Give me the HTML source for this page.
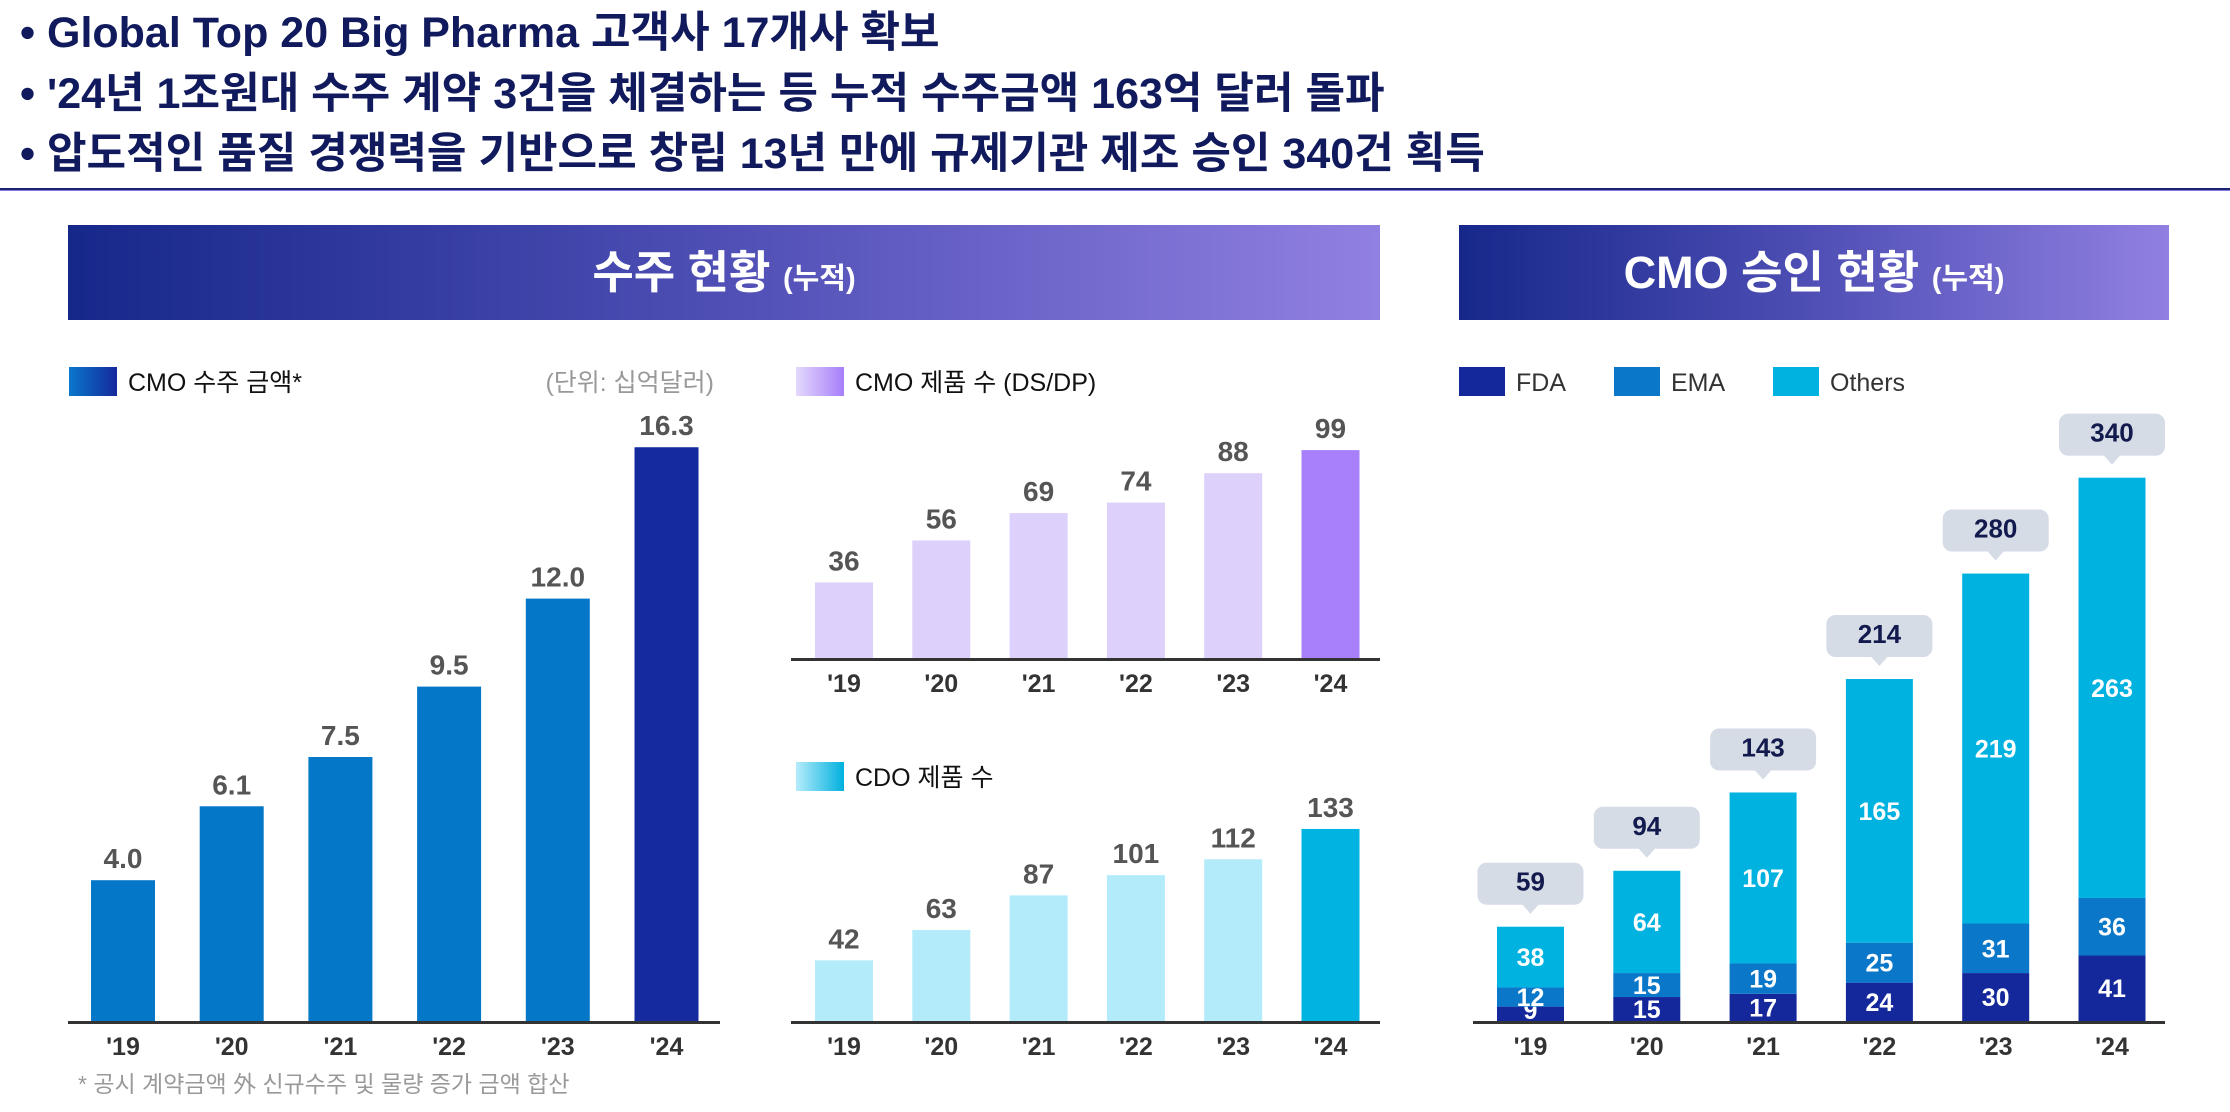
<!DOCTYPE html>
<html><head><meta charset="utf-8">
<style>
html,body{margin:0;padding:0;background:#fff;}
body{width:2230px;height:1107px;overflow:hidden;font-family:"Liberation Sans","Noto Sans CJK KR",sans-serif;}
svg text{font-family:"Liberation Sans","Noto Sans CJK KR",sans-serif;}
</style></head>
<body>
<svg id="s" width="2230" height="1107" viewBox="0 0 2230 1107" xmlns="http://www.w3.org/2000/svg">
<defs>
<linearGradient id="ban" x1="0" x2="1" y1="0" y2="0"><stop offset="0" stop-color="#16278A"/><stop offset="0.5" stop-color="#4F4FB5"/><stop offset="1" stop-color="#9180E2"/></linearGradient>
<linearGradient id="lg1" x1="0" x2="1"><stop offset="0" stop-color="#0A78CC"/><stop offset="1" stop-color="#15299C"/></linearGradient>
<linearGradient id="lg2" x1="0" x2="1"><stop offset="0" stop-color="#E4D9FC"/><stop offset="1" stop-color="#A67EFA"/></linearGradient>
<linearGradient id="lg3" x1="0" x2="1"><stop offset="0" stop-color="#B5ECFB"/><stop offset="1" stop-color="#00B0DE"/></linearGradient>
</defs>
<g font-weight="bold" font-size="43" fill="#101A5C">
<text x="20" y="47">• Global Top 20 Big Pharma 고객사 17개사 확보</text>
<text x="20" y="108">• '24년 1조원대 수주 계약 3건을 체결하는 등 누적 수주금액 163억 달러 돌파</text>
<text x="20" y="168">• 압도적인 품질 경쟁력을 기반으로 창립 13년 만에 규제기관 제조 승인 340건 획득</text>
</g>
<rect x="0" y="188" width="2230" height="2" fill="#1A2470"/>
<rect x="0" y="190" width="2230" height="1" fill="#8A78E0"/>
<rect x="68" y="225" width="1312" height="95" fill="url(#ban)"/>
<text x="724" y="288" text-anchor="middle" fill="#fff" font-weight="bold" font-size="45">수주 현황 <tspan font-size="29">(누적)</tspan></text>
<rect x="1459" y="225" width="710" height="95" fill="url(#ban)"/>
<text x="1814" y="288" text-anchor="middle" fill="#fff" font-weight="bold" font-size="45">CMO 승인 현황 <tspan font-size="29">(누적)</tspan></text>

<rect x="69" y="367" width="48" height="29" fill="url(#lg1)"/>
<text x="128" y="391" font-size="25" fill="#111">CMO 수주 금액*</text>
<text x="714" y="391" font-size="25" fill="#999" text-anchor="end">(단위: 십억달러)</text>
<rect x="796" y="367" width="48" height="29" fill="url(#lg2)"/>
<text x="855" y="391" font-size="25" fill="#111">CMO 제품 수 (DS/DP)</text>
<rect x="796" y="762" width="48" height="29" fill="url(#lg3)"/>
<text x="855" y="786" font-size="25" fill="#111">CDO 제품 수</text>
<text x="78" y="1092" font-size="23" fill="#999">* 공시 계약금액 外 신규수주 및 물량 증가 금액 합산</text>

<rect x="1459" y="367" width="46" height="29" fill="#15289B"/>
<text x="1516" y="391" font-size="25" fill="#333">FDA</text>
<rect x="1614" y="367" width="46" height="29" fill="#0A77C8"/>
<text x="1671" y="391" font-size="25" fill="#333">EMA</text>
<rect x="1773" y="367" width="46" height="29" fill="#00B2E0"/>
<text x="1830" y="391" font-size="25" fill="#333">Others</text>
<g id="charts"></g>
</svg>
<script>
const years = ["'19","'20","'21","'22","'23","'24"];
const orderAmounts = [4.0, 6.1, 7.5, 9.5, 12.0, 16.3];
const orderLabels = ["4.0","6.1","7.5","9.5","12.0","16.3"];
const cmoProducts = [36, 56, 69, 74, 88, 99];
const cdoProducts = [42, 63, 87, 101, 112, 133];
const fdaApprovals = [9, 15, 17, 24, 30, 41];
const emaApprovals = [12, 15, 19, 25, 31, 36];
const otherApprovals = [38, 64, 107, 165, 219, 263];
const totalApprovals = [59, 94, 143, 214, 280, 340];

const NS = "http://www.w3.org/2000/svg";
const G = document.getElementById('charts');
function mk(tag, attrs, parent){const e=document.createElementNS(NS,tag);for(const k in attrs)e.setAttribute(k,attrs[k]);(parent||G).appendChild(e);return e;}
function txt(x,y,s,size,fill,parent){const t=mk('text',{x:x,y:y,'text-anchor':'middle','font-size':size,'font-weight':'bold',fill:fill},parent);t.textContent=s;return t;}

function simpleChart(name, vals, labels, cfg){
  const g = mk('g',{});
  
  
  const xs = i => cfg.x0 + i*cfg.step;
  const ys = v => cfg.base - v*cfg.k;
  vals.forEach((v,i)=>{
    const r = mk('rect',{x:xs(i),y:ys(v),width:cfg.bw,height:cfg.base-ys(v),fill:i===vals.length-1?cfg.last:cfg.color},g);
    
    
    const t = txt(xs(i)+cfg.bw/2, ys(v)-12, labels[i], 28, '#555', g);
    
    
    const a = txt(xs(i)+cfg.bw/2, cfg.base+34, years[i], 25, '#333', g);
    
    
  });
  const ax = mk('rect',{x:cfg.ax0,y:cfg.base,width:cfg.ax1-cfg.ax0,height:3,fill:'#333'},g);
  
  
}
simpleChart('order-amount-chart', orderAmounts, orderLabels, {x0:91,step:108.7,bw:64,base:1021,k:35.2,color:'#0477C8',last:'#152A9E',ax0:68,ax1:720});
simpleChart('cmo-products-chart', cmoProducts, cmoProducts.map(String), {x0:815,step:97.3,bw:58,base:658,k:2.1,color:'#DDD0FB',last:'#A880FB',ax0:791,ax1:1380});
simpleChart('cdo-products-chart', cdoProducts, cdoProducts.map(String), {x0:815,step:97.3,bw:58,base:1021,k:1.444,color:'#B3EBFB',last:'#00B3E0',ax0:791,ax1:1380});

(function(){
  const g = mk('g',{});
  
  
  const x0=1497, step=116.3, bw=67, base=1021, k=1.598;
  const xs=i=>x0+i*step;
  const series=[[fdaApprovals,'#15289B','fda'],[emaApprovals,'#0A77C8','ema'],[otherApprovals,'#00B2E0','others']];
  years.forEach((y,i)=>{
    let acc=0;
    series.forEach(([arr,col,nm])=>{
      const v=arr[i]; const top=base-(acc+v)*k; const h=v*k;
      const r=mk('rect',{x:xs(i),y:top,width:bw,height:h,fill:col},g);
      
      
      const ty = Math.min(top+h/2+9, base-2);
      const t=txt(xs(i)+bw/2, ty, String(v), 25, '#fff', g);
      
      
      acc+=v;
    });
    const top = base - totalApprovals[i]*k;
    const cx = xs(i)+bw/2;
    const b=mk('path',{d:`M${cx-44} ${top-64} h88 a9 9 0 0 1 9 9 v24 a9 9 0 0 1 -9 9 h-36 l-8 9 l-8 -9 h-36 a9 9 0 0 1 -9 -9 v-24 a9 9 0 0 1 9 -9 z`,fill:'#D5DCE5'},g);
    
    
    const t=txt(cx, top-36, String(totalApprovals[i]), 26, '#121A4E', g);
    
    
    const a=txt(cx, base+34, y, 25, '#333', g);
    
    
  });
  const ax=mk('rect',{x:1473,y:base,width:692,height:3,fill:'#333'},g);
  
  
})();
</script>
</body></html>
